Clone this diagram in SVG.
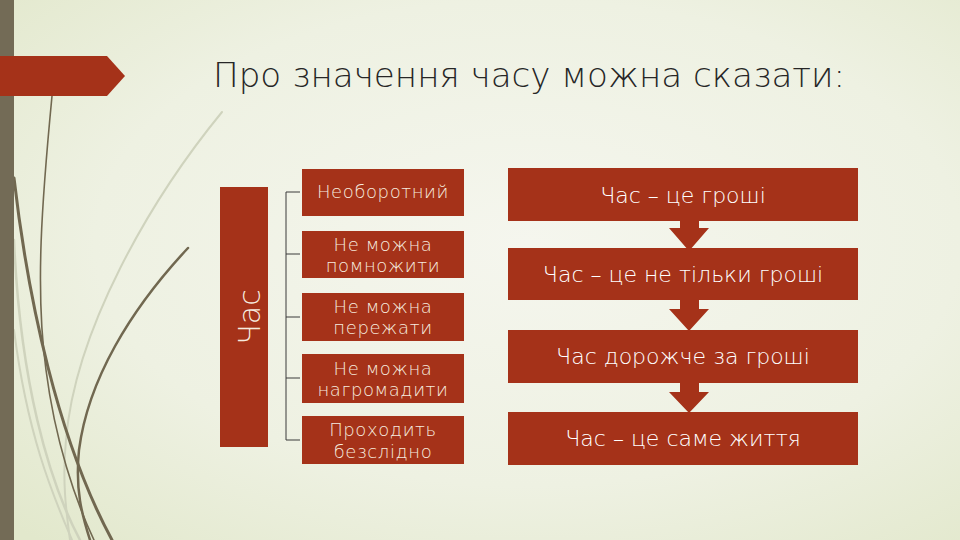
<svg xmlns="http://www.w3.org/2000/svg" width="960" height="540" viewBox="0 0 960 540">
<defs>
<radialGradient id="bg" cx="0.55" cy="0.45" r="0.75">
<stop offset="0" stop-color="#f5f6ee"/>
<stop offset="0.6" stop-color="#eef1e2"/>
<stop offset="1" stop-color="#e2e8cc"/>
</radialGradient>
<style>
.red{fill:#a53219}
.grass{fill:none;stroke:#716850;stroke-linecap:round}
.lgrass{fill:none;stroke:#cfd3bd;stroke-linecap:round}
.lt{font-family:"DejaVu Sans","Liberation Sans",sans-serif;font-size:18px;font-weight:300;letter-spacing:0.6px;fill:#f6ebdf;text-anchor:middle}
.rt{font-family:"DejaVu Sans","Liberation Sans",sans-serif;font-size:22px;font-weight:300;fill:#ffffff;text-anchor:middle}
.br{stroke:#3a3a3a;stroke-width:1;fill:none}
</style>
</defs>
<rect width="960" height="540" fill="url(#bg)"/>
<g id="decor">
<path class="lgrass" stroke-width="2" d="M222,112 C150,200 75,330 66,440 C62,480 66,510 70,540"/>
<path class="lgrass" stroke-width="2.5" d="M14,240 C20,380 48,480 80,540"/>
<path class="lgrass" stroke-width="2" d="M14,330 C28,440 55,500 72,540"/>
<path class="grass" stroke-width="1.6" d="M52,96 C42,200 35,290 46,370 C55,440 75,500 94,540"/>
<path class="grass" stroke-width="3" d="M14,178 C28,300 58,440 112,540"/>
<path class="grass" stroke-width="2.5" d="M188,248 C130,310 88,380 79,450 C75,490 82,515 90,540"/>
<rect x="0" y="0" width="14" height="540" fill="#736b56"/>
<polygon class="red" points="0,56 107,56 125,76 107,96 0,96"/>
</g>
<g id="title">
<text x="213" y="87" font-family="DejaVu Sans, Liberation Sans, sans-serif" font-size="34" font-weight="200" fill="#262626" textLength="632" lengthAdjust="spacingAndGlyphs">Про значення часу можна сказати:</text>
</g>
<g id="chas">
<rect class="red" x="220" y="187" width="48" height="260"/>
<text transform="translate(260,317) rotate(-90)" font-family="DejaVu Sans, Liberation Sans, sans-serif" font-size="30" font-weight="300" fill="#f6ebdf" text-anchor="middle">Час</text>
</g>
<g id="connectors">
<path class="br" d="M286,192 V440 M286,192 H300 M286,254 H300 M286,317 H300 M286,378 H300 M286,440 H300"/>
<path class="red" d="M680,221 H699 V228 H709 L689,251 L669,228 H680 Z"/>
<path class="red" d="M680,300 H699 V309 H709 L689,331 L669,309 H680 Z"/>
<path class="red" d="M680,383 H699 V392 H709 L689,413 L669,392 H680 Z"/>
</g>
<g id="l1"><rect class="red" x="302" y="169" width="162" height="47"/><text class="lt" x="383" y="198">Необоротний</text></g>
<g id="l2"><rect class="red" x="302" y="231" width="162" height="47"/><text class="lt" x="383" y="251">Не можна</text><text class="lt" x="383" y="272">помножити</text></g>
<g id="l3"><rect class="red" x="302" y="293" width="162" height="48"/><text class="lt" x="383" y="313">Не можна</text><text class="lt" x="383" y="334">пережати</text></g>
<g id="l4"><rect class="red" x="302" y="354" width="162" height="49"/><text class="lt" x="383" y="375">Не можна</text><text class="lt" x="383" y="396">нагромадити</text></g>
<g id="l5"><rect class="red" x="302" y="416" width="162" height="48"/><text class="lt" x="383" y="436">Проходить</text><text class="lt" x="383" y="458">безслідно</text></g>
<g id="r1"><rect class="red" x="508" y="168" width="350" height="53"/><text class="rt" x="683" y="203">Час – це гроші</text></g>
<g id="r2"><rect class="red" x="508" y="248" width="350" height="52"/><text class="rt" x="683" y="282">Час – це не тільки гроші</text></g>
<g id="r3"><rect class="red" x="508" y="330" width="350" height="53"/><text class="rt" x="683" y="364">Час дорожче за гроші</text></g>
<g id="r4"><rect class="red" x="508" y="412" width="350" height="53"/><text class="rt" x="683" y="446">Час – це саме життя</text></g>
</svg>
